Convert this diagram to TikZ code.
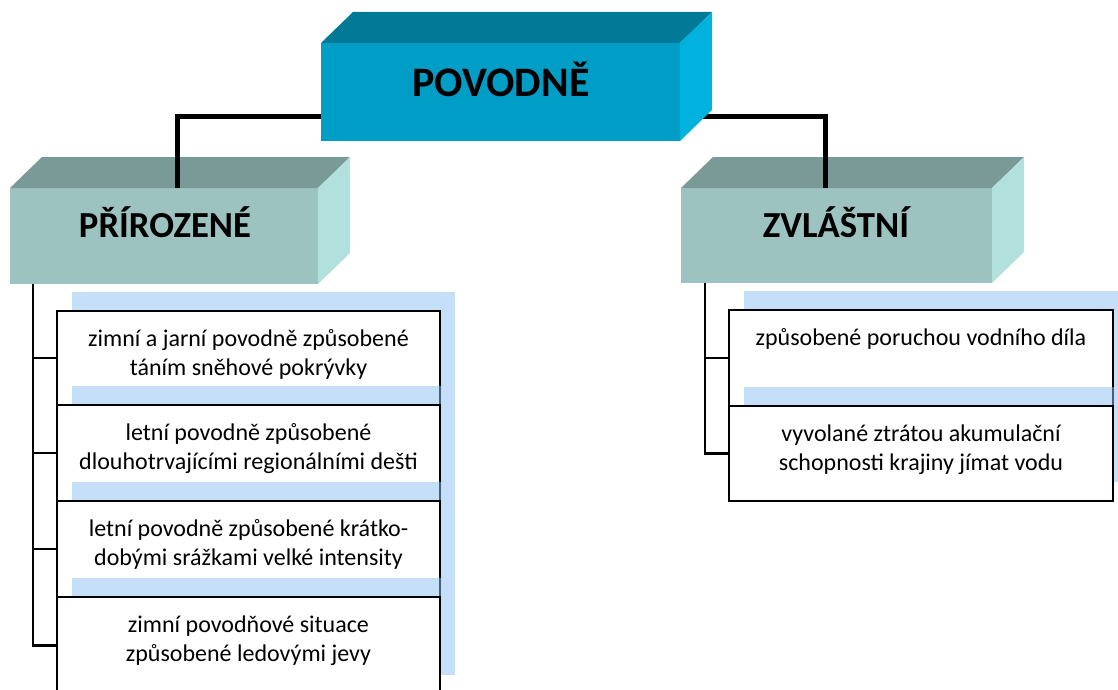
\documentclass[tikz,border=0pt]{standalone}
\usepackage{fontspec}
\setmainfont{Carlito}
\usetikzlibrary{calc}
\pgfdeclarelayer{paper}
\pgfdeclarelayer{bg}
\pgfsetlayers{paper,bg,main}
\definecolor{rootF}{RGB}{0,158,198}
\definecolor{rootT}{RGB}{0,122,150}
\definecolor{rootS}{RGB}{0,178,221}
\definecolor{subF}{RGB}{157,195,193}
\definecolor{subT}{RGB}{122,154,152}
\definecolor{subS}{RGB}{178,224,220}
\definecolor{shadowC}{RGB}{141,193,245}
\tikzset{
  face/.style={draw=none, inner sep=0pt, outer sep=0pt, anchor=north west},
  headtext/.style={anchor=base, inner sep=0pt, font=\bfseries\fontsize{42}{50}\selectfont},
  subtext/.style={anchor=base, inner sep=0pt, font=\bfseries\fontsize{36.7}{44}\selectfont},
  cbox/.style={draw=black, line width=2pt, fill=white, inner sep=0pt, outer sep=0pt, anchor=north west},
  ctext/.style={anchor=base, inner sep=0pt, font=\fontsize{24}{29.3}\selectfont},
  shadowbox/.style={fill=shadowC, fill opacity=0.5},
  busline/.style={line width=5pt, black},
  treeline/.style={line width=2.6pt, black}
}
\newcommand{\cuboid}[3]{% node, top, side
  \fill[#2] (#1.north west) -- ++(32,-31) -- ($(#1.north east)+(32,-31)$) -- (#1.north east) -- cycle;
  \fill[#3] (#1.north east) -- ++(32,-31) -- ($(#1.south east)+(32,-31)$) -- (#1.south east) -- cycle;
}
% name, x, y, width, height, text
\newcommand{\childbox}[6]{%
  \fill[shadowbox] (#2+15,#3-19) rectangle ++(#4,#5);
  \node[cbox, minimum width=#4pt, minimum height=#5pt] (#1) at (#2,#3) {};
  \node[ctext] (#1t) at ([yshift=-35pt]#1.north) {\parbox[t]{380pt}{\centering #6}};
}
\begin{document}
\begin{tikzpicture}[x=1pt,y=-1pt]
\clip (0,0) rectangle (1118,690);
\begin{pgfonlayer}{paper}
\fill[white] (0,0) rectangle (1118,690);
\end{pgfonlayer}

% second-level boxes
\node[face, fill=subF, minimum width=308pt, minimum height=96pt] (pr) at (10,188) {};
\cuboid{pr}{subT}{subS}
\node[subtext] (prT) at (165,237) {PŘÍROZENÉ};

\node[face, fill=subF, minimum width=311pt, minimum height=95pt] (zv) at (681,188) {};
\cuboid{zv}{subT}{subS}
\node[subtext] (zvT) at (836,237) {ZVLÁŠTNÍ};

% root box
\node[face, fill=rootF, minimum width=359pt, minimum height=98pt] (root) at (321,43) {};
\cuboid{root}{rootT}{rootS}
\node[headtext] (rootT) at (501,97) {POVODNĚ};

% connectors from root (bus behind the root box, drops over the top faces)
\coordinate (pj) at ([xshift=167pt]pr.north west);
\coordinate (zj) at ([xshift=144pt]zv.north west);
\coordinate (bus) at ([yshift=-25pt]root.west);
\begin{pgfonlayer}{bg}
\draw[busline] (pj) |- (bus) -| (zj);
\end{pgfonlayer}
\draw[busline] (pj) -- (pj |- bus);
\draw[busline] (zj) -- (zj |- bus);

% left children
\childbox{c1}{57}{311}{383}{94}{zimní a jarní povodně způsobené\\táním sněhové pokrývky}
\childbox{c2}{57}{405}{383}{96}{letní povodně způsobené\\dlouhotrvajícími regionálními dešti}
\childbox{c3}{57}{501}{383}{96}{letní povodně způsobené krátko-\\dobými srážkami velké intensity}
\childbox{c4}{57}{597}{383}{97}{zimní povodňové situace\\způsobené ledovými jevy}

\coordinate (lt) at ([xshift=23pt]pr.south west);
\draw[treeline] (lt) |- (c4.west);
\draw[treeline] (lt |- c1.west) -- (c1.west);
\draw[treeline] (lt |- c2.west) -- (c2.west);
\draw[treeline] (lt |- c3.west) -- (c3.west);

% right children
\childbox{r1}{729}{310}{384}{96}{způsobené poruchou vodního díla}
\childbox{r2}{729}{406}{384}{95}{vyvolané ztrátou akumulační\\schopnosti krajiny jímat vodu}

\coordinate (rt) at ([xshift=24pt]zv.south west);
\draw[treeline] (rt) |- (r2.west);
\draw[treeline] (rt |- r1.west) -- (r1.west);
\end{tikzpicture}
\end{document}
